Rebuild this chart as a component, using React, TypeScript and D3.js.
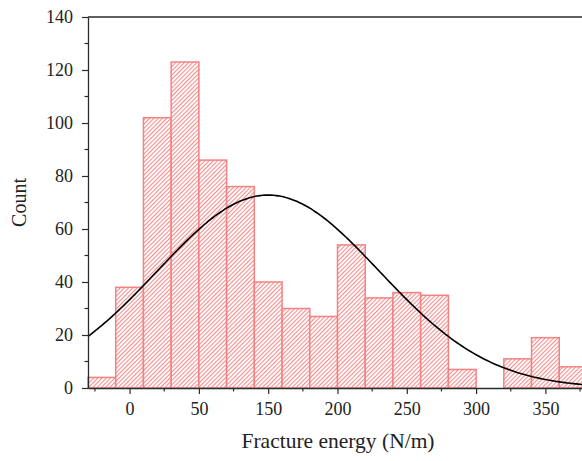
import React, { useEffect, useRef } from 'react';
import * as d3 from 'd3';

// histogram bins (lower edge of each 20-wide bin) and counts
const binStarts = [-30, -10, 10, 30, 50, 70, 90, 110, 130, 150, 170, 190, 210, 230, 250, 270, 290, 310];
const counts = [4, 38, 102, 123, 86, 76, 40, 30, 27, 54, 34, 36, 35, 7, 0, 11, 19, 8];
const binWidth = 20;

// x tick positions and the labels printed on them (as in the source figure)
const xTickValues = [0, 50, 100, 150, 200, 250, 300];
const xTickLabels = ['0', '50', '150', '200', '250', '300', '350'];
const yTickValues = [0, 20, 40, 60, 80, 100, 120, 140];

// fitted normal curve
const fitMean = 100;
const fitSd = 80;

const App = () => {
  const ref = useRef<SVGSVGElement | null>(null);

  useEffect(() => {
    drawChart();
  }, []);

  const drawChart = () => {
    const svg = d3.select(ref.current);
    svg.selectAll('*').remove();

    const left = 88, right = 587, top = 17, bottom = 388;
    const font = '"Liberation Serif", "Times New Roman", serif';
    const axisColor = '#2b2b2b';

    const x = d3.scaleLinear().domain([-30, 330]).range([left, right]);
    const y = d3.scaleLinear().domain([0, 140]).range([bottom, top]);

    // hatch pattern (rotated stripes)
    const defs = svg.append('defs');
    const pat = defs.append('pattern')
      .attr('id', 'hatch')
      .attr('patternUnits', 'userSpaceOnUse')
      .attr('width', 3)
      .attr('height', 3)
      .attr('patternTransform', 'rotate(45)');
    pat.append('rect').attr('width', 3).attr('height', 3).attr('fill', '#fff');
    pat.append('rect').attr('width', 1.1).attr('height', 3).attr('fill', '#f48e8e');

    // bars
    svg.append('g')
      .selectAll('rect')
      .data(counts.map((c, i) => ({ x0: binStarts[i], c })).filter(d => d.c > 0))
      .enter().append('rect')
      .attr('x', d => x(d.x0))
      .attr('y', d => y(d.c))
      .attr('width', d => x(d.x0 + binWidth) - x(d.x0))
      .attr('height', d => y(0) - y(d.c))
      .attr('fill', 'url(#hatch)')
      .attr('stroke', '#f08383')
      .attr('stroke-width', 1.5);

    // normal curve scaled to counts
    const total = d3.sum(counts);
    const scaleK = total * binWidth / (fitSd * Math.sqrt(2 * Math.PI));
    const pts = d3.range(-30, 331, 2).map(v => [v, scaleK * Math.exp(-((v - fitMean) ** 2) / (2 * fitSd * fitSd))]);
    const line = d3.line<number[]>().x(d => x(d[0])).y(d => y(d[1])).curve(d3.curveBasis);
    svg.append('path')
      .attr('d', line(pts))
      .attr('fill', 'none')
      .attr('stroke', '#000')
      .attr('stroke-width', 1.6);

    // frame
    svg.append('line').attr('x1', left).attr('x2', right).attr('y1', top).attr('y2', top)
      .attr('stroke', axisColor).attr('stroke-width', 1.3);
    svg.append('line').attr('x1', right).attr('x2', right).attr('y1', top).attr('y2', bottom)
      .attr('stroke', axisColor).attr('stroke-width', 1.3);

    // x axis
    const xMinor = d3.range(-25, 330, 50);
    const xAxis = svg.append('g').attr('transform', `translate(0,${bottom})`);
    xAxis.call(d3.axisBottom(x).tickValues(xTickValues)
      .tickFormat((d, i) => xTickLabels[i]).tickSize(6).tickPadding(8).tickSizeOuter(0));
    xAxis.selectAll('line.minor').data(xMinor).enter().append('line')
      .attr('x1', d => x(d)).attr('x2', d => x(d)).attr('y1', 0).attr('y2', 3.5)
      .attr('stroke', axisColor).attr('stroke-width', 1.2);

    // y axis
    const yMinor = d3.range(10, 140, 20);
    const yAxis = svg.append('g').attr('transform', `translate(${left},0)`);
    yAxis.call(d3.axisLeft(y).tickValues(yTickValues).tickSize(6).tickPadding(9).tickSizeOuter(0));
    yAxis.selectAll('line.minor').data(yMinor).enter().append('line')
      .attr('x1', 0).attr('x2', -3.5).attr('y1', d => y(d)).attr('y2', d => y(d))
      .attr('stroke', axisColor).attr('stroke-width', 1.2);

    svg.selectAll('.domain').attr('stroke', axisColor).attr('stroke-width', 1.3);
    svg.selectAll('.tick line').attr('stroke', axisColor).attr('stroke-width', 1.2);
    svg.selectAll('.tick text')
      .attr('fill', '#222')
      .style('font-family', font)
      .style('font-size', '18px');

    // axis titles
    svg.append('text')
      .attr('x', 338)
      .attr('y', 448)
      .attr('text-anchor', 'middle')
      .attr('fill', '#222')
      .style('font-family', font)
      .style('font-size', '21.5px')
      .text('Fracture energy (N/m)');

    svg.append('text')
      .attr('transform', `translate(26,${(top + bottom) / 2}) rotate(-90)`)
      .attr('text-anchor', 'middle')
      .attr('fill', '#222')
      .style('font-family', font)
      .style('font-size', '20px')
      .text('Count');
  };

  return (
    <svg ref={ref} width={582} height={461}
      style={{ position: 'absolute', left: 0, top: 0, background: '#fff' }} />
  );
};

export default App;
